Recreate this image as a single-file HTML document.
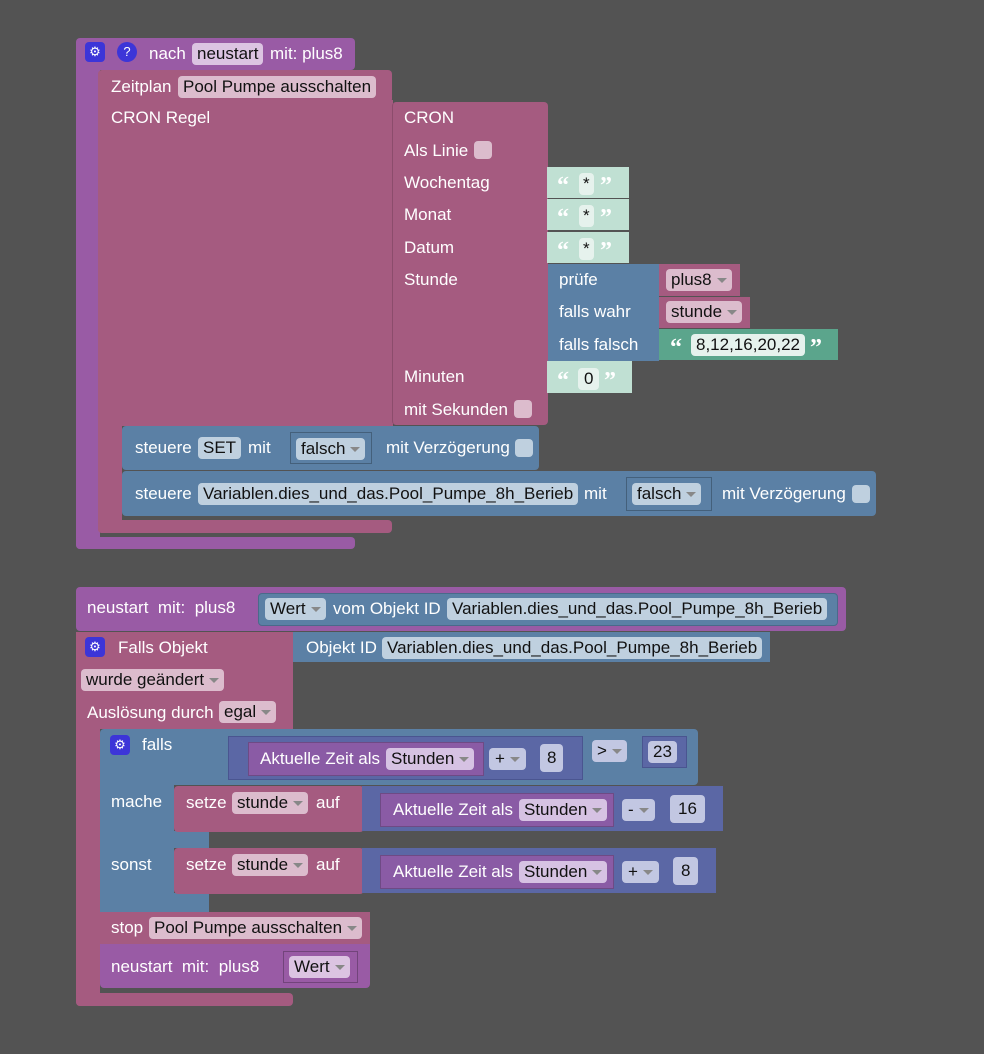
<!DOCTYPE html>
<html><head><meta charset="utf-8"><style>
body{margin:0;width:984px;height:1054px;background:#535353;position:relative;overflow:hidden;font-family:"Liberation Sans",sans-serif;font-size:17px;color:#fff}
.b{position:absolute;border-radius:4px}
.t{position:absolute;white-space:nowrap;line-height:20px}
.f{position:absolute;white-space:nowrap;line-height:22px;height:22px;margin-top:-1px;padding:0 5px;border-radius:4px;color:#111}
.pu{background:#995ba5}.ma{background:#a55b80}.bl{background:#5b80a5}.mt{background:#5b67a5}.tp{background:#8a5ba5}.gr{background:#5ba58c}.lg{background:#c0e0d3}
.fpu{background:#dcc4e2}.fma{background:#dcbccd}.fbl{background:#bfd0df}.ftp{background:#d6c2e3}.fmt{background:#c2c7e2}.fgr{background:#e6f2ed}
.dd:after{content:"";display:inline-block;margin-left:5px;border-left:5px solid transparent;border-right:5px solid transparent;border-top:5px solid #888;vertical-align:middle}
.ic{position:absolute;width:20px;height:20px;border-radius:4px;background:#3c35d8;color:#fff;font-size:13px;text-align:center;line-height:20px}
.q{position:absolute;color:#fff;font-family:"Liberation Serif",serif;font-size:24px;font-weight:bold;line-height:20px}
.cb{position:absolute;width:18px;height:18px;border-radius:4px}
.dk{position:absolute;border:1px solid rgba(0,0,0,.25)}
</style></head><body>

<!-- Block 1 -->
<div class="b pu" style="left:76px;top:38px;width:279px;height:32px"></div>
<div class="b pu" style="left:76px;top:60px;width:24px;height:489px;border-radius:4px 0 0 4px"></div>
<div class="b pu" style="left:76px;top:537px;width:279px;height:12px"></div>
<div class="ic" style="left:85px;top:42px">⚙</div>
<div class="ic" style="left:117px;top:42px;border-radius:50%">?</div>
<div class="t" style="left:149px;top:44px">nach</div>
<div class="f fpu" style="left:192px;top:44px">neustart</div>
<div class="t" style="left:270px;top:44px">mit: plus8</div>

<div class="b ma" style="left:98px;top:70px;width:294px;height:33px"></div>
<div class="b ma" style="left:98px;top:100px;width:295px;height:326px;border-radius:0"></div>
<div class="b ma" style="left:98px;top:420px;width:24px;height:113px;border-radius:0 0 0 4px"></div>
<div class="b ma" style="left:98px;top:520px;width:294px;height:13px"></div>
<div class="t" style="left:111px;top:77px">Zeitplan</div>
<div class="f fma" style="left:178px;top:77px">Pool Pumpe ausschalten</div>
<div class="t" style="left:111px;top:108px">CRON Regel</div>

<div class="b ma" style="left:392px;top:102px;width:155px;height:323px;border-left:1px solid #8c4c6c"></div>
<div class="t" style="left:404px;top:108px">CRON</div>
<div class="t" style="left:404px;top:141px">Als Linie</div>
<div class="cb fma" style="left:474px;top:141px"></div>
<div class="t" style="left:404px;top:173px">Wochentag</div>
<div class="t" style="left:404px;top:205px">Monat</div>
<div class="t" style="left:404px;top:238px">Datum</div>
<div class="t" style="left:404px;top:270px">Stunde</div>
<div class="t" style="left:404px;top:367px">Minuten</div>
<div class="t" style="left:404px;top:400px">mit Sekunden</div>
<div class="cb fma" style="left:514px;top:400px"></div>

<div class="b lg" style="left:547px;top:167px;width:82px;height:31px;border-radius:0"></div>
<div class="b lg" style="left:547px;top:199px;width:82px;height:31px;border-radius:0"></div>
<div class="b lg" style="left:547px;top:232px;width:82px;height:31px;border-radius:0"></div>
<div class="b lg" style="left:547px;top:361px;width:85px;height:32px;border-radius:0"></div>
<div class="q" style="left:557px;top:176px">“</div><div class="f fgr" style="left:579px;top:174px;padding:0 4px">*</div><div class="q" style="left:600px;top:176px">”</div>
<div class="q" style="left:557px;top:208px">“</div><div class="f fgr" style="left:579px;top:206px;padding:0 4px">*</div><div class="q" style="left:600px;top:208px">”</div>
<div class="q" style="left:557px;top:241px">“</div><div class="f fgr" style="left:579px;top:239px;padding:0 4px">*</div><div class="q" style="left:600px;top:241px">”</div>
<div class="q" style="left:557px;top:371px">“</div><div class="f fgr" style="left:578px;top:369px;padding:0 6px">0</div><div class="q" style="left:604px;top:371px">”</div>

<div class="b bl" style="left:548px;top:264px;width:111px;height:97px;border-radius:0"></div>
<div class="t" style="left:559px;top:270px">prüfe</div>
<div class="t" style="left:559px;top:302px">falls wahr</div>
<div class="t" style="left:559px;top:335px">falls falsch</div>
<div class="b ma" style="left:659px;top:264px;width:81px;height:32px;border-radius:0"></div>
<div class="f fma dd" style="left:666px;top:270px">plus8</div>
<div class="b ma" style="left:659px;top:297px;width:91px;height:31px;border-radius:0"></div>
<div class="f fma dd" style="left:666px;top:302px">stunde</div>
<div class="b gr" style="left:659px;top:329px;width:179px;height:31px;border-radius:0"></div>
<div class="q" style="left:670px;top:338px">“</div><div class="f fgr" style="left:691px;top:335px">8,12,16,20,22</div><div class="q" style="left:810px;top:338px">”</div>

<div class="b bl" style="left:122px;top:426px;width:417px;height:44px"></div>
<div class="t" style="left:135px;top:438px">steuere</div>
<div class="f fbl" style="left:198px;top:438px">SET</div>
<div class="t" style="left:248px;top:438px">mit</div>
<div class="dk" style="left:290px;top:432px;width:80px;height:30px"></div>
<div class="f fbl dd" style="left:296px;top:439px">falsch</div>
<div class="t" style="left:386px;top:438px">mit Verzögerung</div>
<div class="cb fbl" style="left:515px;top:439px"></div>

<div class="b bl" style="left:122px;top:471px;width:754px;height:45px"></div>
<div class="t" style="left:135px;top:484px">steuere</div>
<div class="f fbl" style="left:198px;top:484px">Variablen.dies_und_das.Pool_Pumpe_8h_Berieb</div>
<div class="t" style="left:584px;top:484px">mit</div>
<div class="dk" style="left:626px;top:477px;width:84px;height:32px"></div>
<div class="f fbl dd" style="left:632px;top:484px">falsch</div>
<div class="t" style="left:722px;top:484px">mit Verzögerung</div>
<div class="cb fbl" style="left:852px;top:485px"></div>

<!-- Block 2 -->
<div class="b pu" style="left:76px;top:587px;width:770px;height:44px"></div>
<div class="t" style="left:87px;top:598px">neustart&nbsp; mit:&nbsp; plus8</div>
<div class="b bl" style="left:258px;top:593px;width:580px;height:33px;border:1px solid #4a6a8a;box-sizing:border-box"></div>
<div class="f fbl dd" style="left:265px;top:599px">Wert</div>
<div class="t" style="left:333px;top:599px">vom Objekt ID</div>
<div class="f fbl" style="left:447px;top:599px">Variablen.dies_und_das.Pool_Pumpe_8h_Berieb</div>

<div class="b ma" style="left:76px;top:632px;width:217px;height:97px;border-radius:0"></div>
<div class="b ma" style="left:76px;top:720px;width:24px;height:286px;border-radius:0 0 0 4px"></div>
<div class="b ma" style="left:76px;top:993px;width:217px;height:13px"></div>
<div class="ic" style="left:85px;top:637px">⚙</div>
<div class="t" style="left:118px;top:638px">Falls Objekt</div>
<div class="f fma dd" style="left:81px;top:670px">wurde geändert</div>
<div class="t" style="left:87px;top:703px">Auslösung durch</div>
<div class="f fma dd" style="left:219px;top:702px">egal</div>
<div class="b bl" style="left:293px;top:632px;width:477px;height:30px;border-radius:0"></div>
<div class="t" style="left:306px;top:638px">Objekt ID</div>
<div class="f fbl" style="left:382px;top:638px">Variablen.dies_und_das.Pool_Pumpe_8h_Berieb</div>

<div class="b bl" style="left:100px;top:729px;width:598px;height:56px"></div>
<div class="b bl" style="left:100px;top:780px;width:74px;height:132px;border-radius:0"></div>
<div class="b bl" style="left:100px;top:893px;width:109px;height:19px;border-radius:0"></div>
<div class="b bl" style="left:174px;top:831px;width:35px;height:17px;border-radius:0"></div>
<div class="ic" style="left:110px;top:735px">⚙</div>
<div class="t" style="left:142px;top:735px">falls</div>
<div class="t" style="left:111px;top:792px">mache</div>
<div class="t" style="left:111px;top:855px">sonst</div>
<div class="b mt" style="left:228px;top:736px;width:355px;height:44px;border:1px solid #4a5590;box-sizing:border-box;border-radius:0"></div>
<div class="b tp" style="left:248px;top:742px;width:236px;height:34px;border:1px solid #6e4a85;box-sizing:border-box;border-radius:0"></div>
<div class="t" style="left:260px;top:749px">Aktuelle Zeit als</div>
<div class="f ftp dd" style="left:386px;top:749px">Stunden</div>
<div class="f fmt dd" style="left:489px;top:749px;padding:0 6px">+</div>
<div class="f fmt" style="left:540px;top:745px;height:28px;line-height:28px;padding:0 7px">8</div>
<div class="f fmt dd" style="left:592px;top:741px">&gt;</div>
<div class="b mt" style="left:642px;top:736px;width:45px;height:32px;border:1px solid #4a5590;box-sizing:border-box;border-radius:0"></div>
<div class="f fmt" style="left:648px;top:742px">23</div>

<div class="b ma" style="left:174px;top:786px;width:190px;height:46px"></div>
<div class="t" style="left:186px;top:793px">setze</div>
<div class="f fma dd" style="left:232px;top:793px">stunde</div>
<div class="t" style="left:316px;top:793px">auf</div>
<div class="b mt" style="left:362px;top:786px;width:361px;height:45px;border-radius:0"></div>
<div class="b tp" style="left:380px;top:793px;width:234px;height:34px;border:1px solid #6e4a85;box-sizing:border-box;border-radius:0"></div>
<div class="t" style="left:393px;top:800px">Aktuelle Zeit als</div>
<div class="f ftp dd" style="left:519px;top:800px">Stunden</div>
<div class="f fmt dd" style="left:622px;top:800px;padding:0 6px">-</div>
<div class="f fmt" style="left:670px;top:796px;height:28px;line-height:28px;padding:0 8px">16</div>

<div class="b ma" style="left:174px;top:848px;width:190px;height:46px"></div>
<div class="t" style="left:186px;top:855px">setze</div>
<div class="f fma dd" style="left:232px;top:855px">stunde</div>
<div class="t" style="left:316px;top:855px">auf</div>
<div class="b mt" style="left:362px;top:848px;width:354px;height:45px;border-radius:0"></div>
<div class="b tp" style="left:380px;top:855px;width:234px;height:34px;border:1px solid #6e4a85;box-sizing:border-box;border-radius:0"></div>
<div class="t" style="left:393px;top:862px">Aktuelle Zeit als</div>
<div class="f ftp dd" style="left:519px;top:862px">Stunden</div>
<div class="f fmt dd" style="left:622px;top:862px;padding:0 6px">+</div>
<div class="f fmt" style="left:673px;top:858px;height:28px;line-height:28px;padding:0 8px">8</div>

<div class="b ma" style="left:100px;top:912px;width:270px;height:32px;border-radius:0"></div>
<div class="t" style="left:111px;top:918px">stop</div>
<div class="f fma dd" style="left:149px;top:918px">Pool Pumpe ausschalten</div>
<div class="b pu" style="left:100px;top:944px;width:270px;height:44px;border-radius:0 0 4px 4px"></div>
<div class="t" style="left:111px;top:957px">neustart&nbsp; mit:&nbsp; plus8</div>
<div class="dk" style="left:283px;top:951px;width:73px;height:30px"></div>
<div class="f fpu dd" style="left:289px;top:957px">Wert</div>

</body></html>
